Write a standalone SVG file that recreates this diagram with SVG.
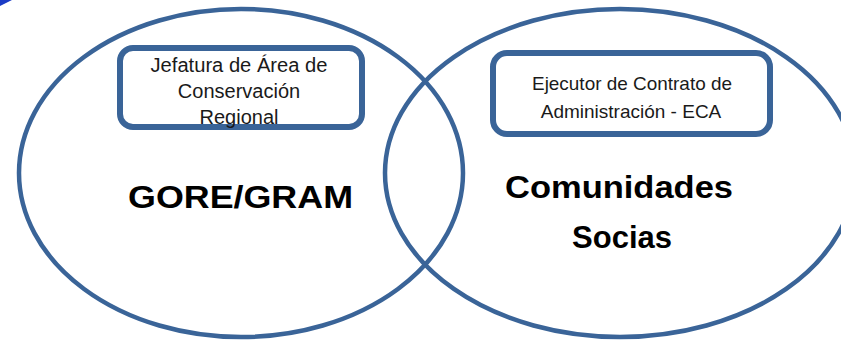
<svg xmlns="http://www.w3.org/2000/svg" width="841" height="344" viewBox="0 0 841 344">
  <style>
    .ring { fill: none; stroke: #3A6498; stroke-width: 4.5; }
    .box { fill: #FFFFFF; stroke: #3A6498; stroke-width: 6; }
    .small { font-family: "Liberation Sans", Arial, sans-serif; fill: #1A1A1A; text-anchor: middle; }
    .big { font-family: "Liberation Sans", Arial, sans-serif; font-weight: bold; fill: #000000; text-anchor: middle; font-size: 31px; }
  </style>
  <rect x="0" y="0" width="841" height="344" fill="#FFFFFF"/>
  <polygon points="0,0 12,0 0,6" fill="#1B3CC6"/>
  <g id="gore-gram">
    <ellipse class="ring" cx="241" cy="173" rx="222" ry="164"/>
    <text class="big" x="240.5" y="208" textLength="225" lengthAdjust="spacingAndGlyphs">GORE/GRAM</text>
  </g>
  <g id="comunidades-socias">
    <ellipse class="ring" cx="620" cy="173" rx="235" ry="164"/>
    <text class="big" x="619" y="198" textLength="228" lengthAdjust="spacingAndGlyphs">Comunidades</text>
    <text class="big" x="622" y="248" textLength="100" lengthAdjust="spacingAndGlyphs">Socias</text>
  </g>
  <g id="jefatura">
    <rect class="box" x="120" y="48" width="242" height="79" rx="13"/>
    <text class="small" font-size="20" x="239" y="72" textLength="177" lengthAdjust="spacingAndGlyphs">Jefatura de Área de</text>
    <text class="small" font-size="20" x="239" y="98">Conservación</text>
    <text class="small" font-size="20" x="239" y="124">Regional</text>
  </g>
  <g id="eca">
    <rect class="box" x="493" y="53" width="277" height="81" rx="14"/>
    <text class="small" font-size="19" x="632" y="90" textLength="200" lengthAdjust="spacingAndGlyphs">Ejecutor de Contrato de</text>
    <text class="small" font-size="19" x="631" y="118">Administración - ECA</text>
  </g>
  <g id="connectors"></g>
</svg>
